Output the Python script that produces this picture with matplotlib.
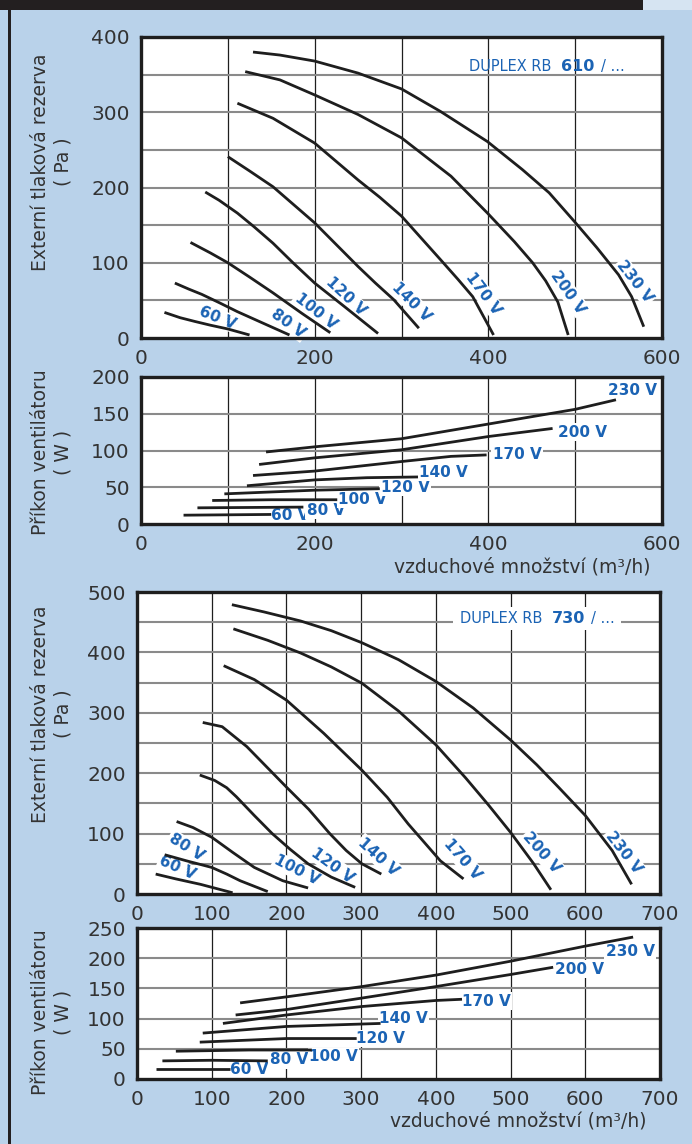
import numpy as np
import matplotlib.pyplot as plt
from matplotlib.patches import Rectangle

W, H = 692, 1144
BG = '#b9d2ea'
BLUE = '#1b63b4'
INK = '#231f20'
TXT = '#333333'

volts = ['60 V', '80 V', '100 V', '120 V', '140 V', '170 V', '200 V', '230 V']

# DUPLEX RB 610 - external pressure (Pa) vs airflow (m3/h), one list per voltage
p610_x = [[27, 45, 62, 80, 100, 125],
          [39, 55, 70, 90, 111, 140, 171],
          [57, 80, 100, 125, 152, 185, 218],
          [74, 90, 111, 130, 152, 175, 200, 234, 273],
          [100, 125, 152, 175, 200, 225, 250, 270, 291, 320],
          [111, 152, 200, 250, 275, 300, 345, 365, 382, 406],
          [120, 160, 200, 250, 300, 357, 399, 430, 451, 466, 480, 492],
          [129, 160, 200, 250, 300, 345, 399, 439, 470, 499, 525, 550, 565, 579]]
p610_y = [[34, 27, 22, 17, 12, 4],
          [73, 65, 58, 47, 35, 20, 4],
          [127, 113, 100, 81, 60, 33, 7],
          [194, 183, 166, 148, 126, 100, 73, 42, 6],
          [241, 222, 201, 178, 153, 124, 95, 73, 51, 13],
          [312, 292, 259, 210, 187, 162, 104, 78, 55, 4],
          [354, 343, 323, 297, 266, 215, 166, 128, 100, 76, 48, 4],
          [380, 376, 368, 352, 331, 301, 261, 224, 193, 155, 120, 84, 55, 15]]

# DUPLEX RB 610 - fan power (W)
w610_x = [[49, 150],
          [65, 187],
          [82, 150, 226],
          [96, 200, 275],
          [122, 200, 260, 319],
          [129, 200, 300, 357, 398],
          [136, 200, 300, 400, 474],
          [144, 200, 300, 400, 500, 547]]
w610_y = [[12, 13],
          [22, 23],
          [32, 33, 33],
          [41, 46, 48],
          [52, 60, 63, 64],
          [66, 72, 85, 92, 94],
          [81, 90, 101, 119, 130],
          [98, 105, 116, 136, 156, 169]]

# DUPLEX RB 730 - external pressure (Pa)
p730_x = [[25, 52, 85, 128],
          [37, 66, 100, 120, 138, 175],
          [53, 75, 100, 128, 157, 195, 229],
          [84, 104, 120, 133, 157, 181, 205, 229, 260, 292],
          [88, 114, 147, 200, 230, 258, 280, 301, 327],
          [116, 157, 200, 250, 301, 335, 363, 406, 437],
          [129, 175, 219, 260, 301, 350, 400, 440, 470, 500, 531, 554],
          [127, 170, 219, 260, 301, 350, 400, 450, 500, 535, 564, 600, 636, 662]]
p730_y = [[33, 25, 16, 2],
          [65, 55, 44, 33, 22, 4],
          [120, 110, 94, 69, 44, 22, 10],
          [197, 188, 176, 161, 130, 100, 74, 50, 28, 11],
          [284, 277, 244, 177, 140, 100, 72, 50, 33],
          [378, 355, 321, 266, 205, 160, 116, 55, 25],
          [439, 420, 399, 376, 349, 303, 247, 192, 148, 102, 50, 7],
          [479, 467, 452, 436, 416, 388, 352, 308, 255, 214, 177, 130, 72, 16]]

# DUPLEX RB 730 - fan power (W)
w730_x = [[25, 125],
          [34, 100, 175],
          [52, 150, 234],
          [84, 200, 294],
          [88, 200, 326],
          [115, 200, 301, 400, 435],
          [132, 200, 301, 400, 500, 557],
          [138, 200, 301, 400, 500, 600, 664]]
w730_y = [[17, 17],
          [30, 31, 30],
          [46, 48, 48],
          [61, 67, 67],
          [76, 87, 92],
          [92, 106, 120, 130, 132],
          [106, 115, 134, 153, 173, 185],
          [126, 136, 153, 172, 195, 220, 235]]

# label placement (x, y, rotation) per voltage
lab_p610 = [(88, 27, -22), (170, 19, -36), (201, 35, -38), (236, 55, -43),
            (311, 48, -45), (394, 59, -53), (492, 61, -55), (569, 75, -52)]
lab_w610 = [(172, 11), (213, 19), (255, 34), (304, 50),
            (348, 70), (433, 95), (508, 125), (566, 182)]
lab_p730 = [(54, 43, -24), (66, 78, -32), (214, 39, -27), (262, 47, -36),
            (323, 62, -42), (435, 58, -49), (542, 68, -49), (651, 69, -52)]
lab_w730 = [(150, 15), (203, 32), (263, 37), (326, 67),
            (357, 100), (468, 129), (592, 182), (660, 211)]


def rect(x0, y0, x1, y1):
    return [x0 / W, 1 - y1 / H, (x1 - x0) / W, (y1 - y0) / H]


def frame(ax, xmax, ymax, xgrid, ygrid, xticks, yticks):
    ax.set_xlim(0, xmax)
    ax.set_ylim(0, ymax)
    for g in xgrid:
        ax.axvline(g, color='#1e1e1e', lw=0.9, zorder=1)
    for g in ygrid:
        ax.axhline(g, color='#8a8a8a', lw=1.5, zorder=1)
    ax.set_xticks(xticks)
    ax.set_yticks(yticks)
    ax.tick_params(length=0, labelsize=14.5, labelcolor=TXT, pad=8)
    for s in ax.spines.values():
        s.set_linewidth(2.4)
        s.set_color('#1e1e1e')
        s.set_zorder(6)


def curves(ax, xs, ys):
    for x, y in zip(xs, ys):
        ax.plot(x, y, color='#1e1e1e', lw=2.0, solid_capstyle='butt',
                solid_joinstyle='round', zorder=4)


def model_tag(ax, x, y, num, x_num, x_tail):
    ax.text(x, y, 'DUPLEX RB', fontsize=10.5, color=BLUE, va='center', zorder=3)
    ax.text(x_num, y, num, fontsize=11.5, fontweight='bold', color=BLUE, va='center', zorder=3)
    ax.text(x_tail, y, '/ ...', fontsize=10.5, color=BLUE, va='center', zorder=3)


box = dict(facecolor='white', edgecolor='none', pad=1.0)

fig = plt.figure(figsize=(W / 100, H / 100), dpi=100, facecolor=BG)
fig.patches.append(Rectangle((0, 1 - 10 / H), 643 / W, 10 / H, transform=fig.transFigure,
                             facecolor=INK, edgecolor='none'))
fig.patches.append(Rectangle((643 / W, 1 - 10 / H), 49 / W, 10 / H, transform=fig.transFigure,
                             facecolor='#d6e4f2', edgecolor='none'))
fig.patches.append(Rectangle((8 / W, 0), 3 / W, 1 - 10 / H, transform=fig.transFigure,
                             facecolor=INK, edgecolor='none'))

# panel 1
ax1 = fig.add_axes(rect(141, 37, 662, 338))
frame(ax1, 600, 400, range(100, 600, 100), range(50, 400, 50),
      [0, 200, 400, 600], range(0, 401, 100))
curves(ax1, p610_x, p610_y)
for v, (x, y, r) in zip(volts, lab_p610):
    ax1.text(x, y, v, rotation=r, rotation_mode='anchor', ha='center', va='center',
             fontsize=11, fontweight='bold', color=BLUE, bbox=box, zorder=3)
model_tag(ax1, 378, 361, '610', 484, 530)

# panel 2
ax2 = fig.add_axes(rect(141, 377, 662, 524))
frame(ax2, 600, 200, range(100, 600, 100), range(50, 200, 50),
      [0, 200, 400, 600], range(0, 201, 50))
curves(ax2, w610_x, w610_y)
for v, (x, y) in zip(volts, lab_w610):
    ax2.text(x, y, v, ha='center', va='center', fontsize=11, fontweight='bold',
             color=BLUE, bbox=box, zorder=3)

# panel 3
ax3 = fig.add_axes(rect(137, 592, 660, 894))
frame(ax3, 700, 500, range(100, 700, 100), range(50, 500, 50),
      range(0, 701, 100), range(0, 501, 100))
curves(ax3, p730_x, p730_y)
for v, (x, y, r) in zip(volts, lab_p730):
    ax3.text(x, y, v, rotation=r, rotation_mode='anchor', ha='center', va='center',
             fontsize=11, fontweight='bold', color=BLUE, bbox=box, zorder=3)
ax3.add_patch(Rectangle((423, 437), 225, 38, facecolor='white', edgecolor='none', zorder=2))
model_tag(ax3, 432, 456, '730', 555, 608)

# panel 4
ax4 = fig.add_axes(rect(137, 928, 660, 1079))
frame(ax4, 700, 250, range(100, 700, 100), range(50, 250, 50),
      range(0, 701, 100), range(0, 251, 50))
curves(ax4, w730_x, w730_y)
for v, (x, y) in zip(volts, lab_w730):
    ax4.text(x, y, v, ha='center', va='center', fontsize=11, fontweight='bold',
             color=BLUE, bbox=box, zorder=3)

# axis titles
for yc, l1, l2 in [(162, 'Externí tlaková rezerva', '( Pa )'),
                   (452, 'Příkon ventilátoru', '( W )'),
                   (714, 'Externí tlaková rezerva', '( Pa )'),
                   (1012, 'Příkon ventilátoru', '( W )')]:
    fig.text(41 / W, 1 - yc / H, l1, rotation=90, ha='center', va='center',
             fontsize=13.5, color=TXT)
    fig.text(63 / W, 1 - yc / H, l2, rotation=90, ha='center', va='center',
             fontsize=13.5, color=TXT)

for yc, xr in [(567, 650), (1121, 646)]:
    fig.text(xr / W, 1 - yc / H, 'vzduchové množství (m³/h)', ha='right', va='center',
             fontsize=13.5, color=TXT)

fig.savefig('out.png', dpi=100, facecolor=BG)
